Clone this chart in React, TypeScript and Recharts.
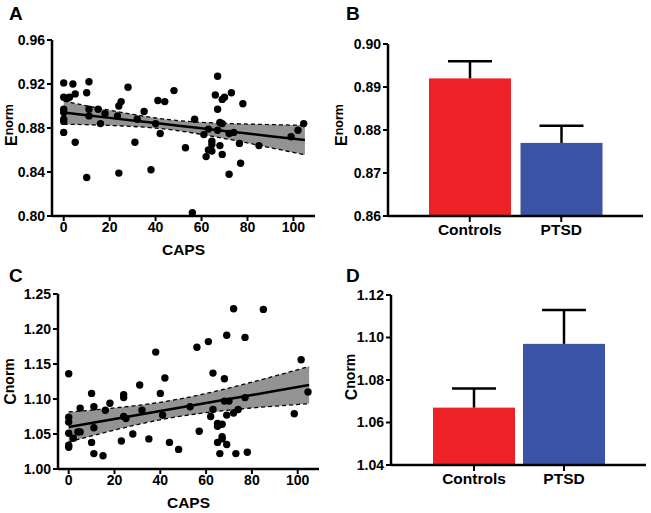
import React from "react";
import {
  ComposedChart,
  BarChart,
  Bar,
  Cell,
  Scatter,
  Line,
  Area,
  XAxis,
  YAxis,
} from "recharts";

// Panel A / C: CAPS score vs normalized measure (one entry per subject)
const capsA = [
  0, 4, 11, 0, 1.7, 2.5, 5, 10, 28, 0, 0, 0, 0, 0, 5, 10, 11, 11, 15, 18, 16, 23.4, 24, 25, 24, 32,
  35, 31, 38, 40, 41, 42, 44, 48, 53, 56, 57, 61, 62, 63, 63, 64.5, 64.5, 64.5, 67, 66, 67, 67, 68,
  69, 68, 69, 69, 70, 73, 72, 74, 72, 76.5, 78, 77, 85, 99, 102, 104.5,
];
const eNormA = [
  0.921, 0.92, 0.922, 0.908, 0.907, 0.908, 0.911, 0.912, 0.917, 0.897, 0.894, 0.888, 0.886, 0.876,
  0.867, 0.835, 0.897, 0.891, 0.897, 0.893, 0.884, 0.891, 0.9, 0.904, 0.839, 0.888, 0.895, 0.867,
  0.842, 0.884, 0.905, 0.875, 0.904, 0.914, 0.862, 0.803, 0.888, 0.874, 0.854, 0.879, 0.86, 0.868,
  0.859, 0.865, 0.927, 0.91, 0.897, 0.878, 0.864, 0.856, 0.885, 0.884, 0.906, 0.908, 0.912, 0.875,
  0.876, 0.838, 0.866, 0.902, 0.848, 0.864, 0.872, 0.878, 0.884,
];
const capsC = [
  0, 0, 0, 0, 0, 0, 2, 4, 5, 5, 10, 10, 11, 11, 11, 15, 16, 18, 23, 24, 24, 24, 25, 28, 31, 32, 35,
  38, 40, 41, 42, 44, 48, 53, 56, 57, 61, 62, 63, 63, 65, 65, 65, 66, 67, 67, 67, 68, 68, 69, 69, 69,
  70, 72, 72, 73, 74, 77, 77, 78, 85, 98.5, 101.5, 104.5,
];
const cNormC = [
  1.136, 1.074, 1.067, 1.051, 1.034, 1.031, 1.044, 1.053, 1.053, 1.087, 1.108, 1.038, 1.089, 1.059,
  1.022, 1.019, 1.084, 1.094, 1.04, 1.106, 1.102, 1.075, 1.072, 1.05, 1.12, 1.084, 1.043, 1.167,
  1.108, 1.077, 1.13, 1.038, 1.028, 1.089, 1.174, 1.054, 1.182, 1.075, 1.137, 1.085, 1.065, 1.061,
  1.038, 1.022, 1.064, 1.046, 1.043, 1.129, 1.097, 1.191, 1.077, 1.035, 1.097, 1.229, 1.08, 1.022,
  1.085, 1.188, 1.102, 1.024, 1.228, 1.079, 1.156, 1.11,
];

// regression fit and 95% confidence band, read at these CAPS values
const bandX = [0, 10, 20, 30, 40, 50, 60, 70, 80, 90, 105];
const fitA = [0.894, 0.8916, 0.8892, 0.8869, 0.8845, 0.8821, 0.8797, 0.8773, 0.875, 0.8726, 0.869];
const loA = [0.8835, 0.883, 0.8823, 0.8814, 0.8799, 0.8775, 0.8742, 0.8704, 0.8664, 0.8621, 0.8556];
const hiA = [0.9045, 0.9002, 0.8961, 0.8924, 0.8891, 0.8867, 0.8852, 0.8842, 0.8836, 0.8831, 0.8824];
const fitC = [1.06, 1.0657, 1.0714, 1.0771, 1.0828, 1.0885, 1.0942, 1.0999, 1.1056, 1.1113, 1.1199];
const loC = [1.0385, 1.0473, 1.0556, 1.0634, 1.0703, 1.076, 1.0805, 1.0841, 1.0872, 1.0898, 1.0934];
const hiC = [1.0815, 1.0841, 1.0872, 1.0908, 1.0953, 1.101, 1.1079, 1.1157, 1.124, 1.1328, 1.1464];

// Panel B / D: group means and SEM
const groups = ["Controls", "PTSD"];
const eMean = [0.892, 0.877];
const eSem = [0.004, 0.004];
const cMean = [1.067, 1.097];
const cSem = [0.009, 0.016];

const capsTicks = [0, 20, 40, 60, 80, 100];
const eTicksA = [0.8, 0.84, 0.88, 0.92, 0.96];
const cTicksC = [1.0, 1.05, 1.1, 1.15, 1.2, 1.25];
const eTicksB = [0.86, 0.87, 0.88, 0.89, 0.9];
const cTicksD = [1.04, 1.06, 1.08, 1.1, 1.12];

const barColors = ["#ec2227", "#3a53a4"];

const FONT = "Arial, 'Liberation Sans', Helvetica, sans-serif";
const tickStyle = { fill: "#000", fontSize: 14, fontWeight: 700, fontFamily: FONT };
const axisLine = { stroke: "#000", strokeWidth: 2.5 };
const tickLine = { stroke: "#000", strokeWidth: 2 };

const yTitle =
  (main: string, sup: string, dx: number, dy: number, supSize: number, shift: number) =>
  (props: any) => {
    const vb = props.viewBox || {};
    const cx = vb.x + dx;
    const cy = vb.y + vb.height / 2 + dy;
    return (
      <text
        x={cx}
        y={cy}
        transform={`rotate(-90 ${cx} ${cy})`}
        textAnchor="middle"
        fontFamily={FONT}
        fontWeight={700}
        fill="#000"
      >
        <tspan fontSize={16}>{main}</tspan>
        <tspan fontSize={supSize} dy={shift}>
          {sup}
        </tspan>
      </text>
    );
  };

const capsTitle = (props: any) => {
  const vb = props.viewBox || {};
  return (
    <text
      x={vb.x + vb.width / 2}
      y={vb.y + 39}
      textAnchor="middle"
      fontFamily={FONT}
      fontWeight={700}
      fontSize={15.5}
      fill="#000"
    >
      CAPS
    </text>
  );
};

const dot = (p: any) => <circle cx={p.cx} cy={p.cy} r={3.7} fill="#000" />;

// bar with an upward-only SEM whisker; pixel length from the bar's own scale
const barWithSem = (yMin: number) => (p: any) => {
  const { x, y, width, height, fill, payload } = p;
  const pxPerUnit = height / (payload.mean - yMin);
  const top = y - payload.sem * pxPerUnit;
  const cx = x + width / 2;
  return (
    <g>
      <rect x={x} y={y} width={width} height={height} fill={fill} />
      <line x1={cx} x2={cx} y1={y} y2={top} stroke="#000" strokeWidth={2.5} />
      <line x1={cx - 22} x2={cx + 22} y1={top} y2={top} stroke="#000" strokeWidth={2.5} />
    </g>
  );
};

function ScatterPanel(props: {
  caps: number[];
  vals: number[];
  fit: number[];
  lo: number[];
  hi: number[];
  yDomain: [number, number];
  yTicks: number[];
  xDomain: [number, number];
  width: number;
  height: number;
  margin: any;
  yWidth: number;
  title: any;
}) {
  const pts = props.caps.map((x, i) => ({ x, y: props.vals[i] }));
  const band = bandX.map((x, i) => ({ x, fit: props.fit[i], lo: props.lo[i], hi: props.hi[i] }));
  return (
    <ComposedChart width={props.width} height={props.height} margin={props.margin}>
      <XAxis
        type="number"
        dataKey="x"
        domain={props.xDomain}
        ticks={capsTicks}
        allowDataOverflow
        axisLine={axisLine}
        tickLine={tickLine}
        tickSize={5}
        tickMargin={1}
        tick={tickStyle}
        height={44}
        label={capsTitle}
      />
      <YAxis
        type="number"
        domain={props.yDomain}
        ticks={props.yTicks}
        allowDataOverflow
        axisLine={axisLine}
        tickLine={tickLine}
        tickSize={5}
        tickMargin={2}
        tick={tickStyle}
        tickFormatter={(v: number) => v.toFixed(2)}
        width={props.yWidth}
        label={props.title}
      />
      <Area
        data={band}
        dataKey={(d: any) => [d.lo, d.hi]}
        type="monotone"
        fill="#939393"
        fillOpacity={1}
        stroke="#000"
        strokeWidth={1.3}
        strokeDasharray="4 3"
        isAnimationActive={false}
        activeDot={false}
        dot={false}
      />
      <Line
        data={band}
        dataKey="fit"
        type="linear"
        stroke="#000"
        strokeWidth={2.5}
        dot={false}
        activeDot={false}
        isAnimationActive={false}
      />
      <Scatter data={pts} dataKey="y" shape={dot} isAnimationActive={false} />
    </ComposedChart>
  );
}

function BarPanel(props: {
  means: number[];
  sems: number[];
  yDomain: [number, number];
  yTicks: number[];
  width: number;
  height: number;
  margin: any;
  yWidth: number;
  xHeight: number;
  pad: { left: number; right: number };
  title: any;
}) {
  const rows = groups.map((g, i) => ({ group: g, mean: props.means[i], sem: props.sems[i] }));
  return (
    <BarChart width={props.width} height={props.height} margin={props.margin} data={rows}>
      <XAxis
        type="category"
        dataKey="group"
        axisLine={axisLine}
        tickLine={tickLine}
        tickSize={6}
        tickMargin={2}
        tick={{ ...tickStyle, fontSize: 15.5 }}
        height={props.xHeight}
        padding={props.pad}
      />
      <YAxis
        type="number"
        domain={props.yDomain}
        ticks={props.yTicks}
        allowDataOverflow
        axisLine={axisLine}
        tickLine={tickLine}
        tickSize={5}
        tickMargin={2}
        tick={tickStyle}
        tickFormatter={(v: number) => v.toFixed(2)}
        width={props.yWidth}
        label={props.title}
      />
      <Bar dataKey="mean" barSize={82} shape={barWithSem(props.yDomain[0])} isAnimationActive={false}>
        {rows.map((r, i) => (
          <Cell key={r.group} fill={barColors[i]} />
        ))}
      </Bar>
    </BarChart>
  );
}

export default function App() {
  const box = (left: number, top: number): React.CSSProperties => ({
    position: "absolute",
    left,
    top,
  });
  const letter = { fontFamily: FONT, fontWeight: 700, fontSize: 19, fill: "#000" };
  return (
    <div
      style={{
        position: "absolute",
        left: 0,
        top: 0,
        width: 651,
        height: 513,
        background: "#fff",
        overflow: "hidden",
      }}
    >
      <div style={box(0, 0)}>
        <ScatterPanel
          caps={capsA}
          vals={eNormA}
          fit={fitA}
          lo={loA}
          hi={hiA}
          yDomain={[0.8, 0.96]}
          yTicks={eTicksA}
          xDomain={[-5.1, 109.4]}
          width={330}
          height={260}
          margin={{ top: 40, right: 15, bottom: 0, left: 0 }}
          yWidth={52}
          title={yTitle("E", "norm", 17, -3, 12.5, -4.5)}
        />
      </div>
      <div style={box(330, 0)}>
        <BarPanel
          means={eMean}
          sems={eSem}
          yDomain={[0.86, 0.9]}
          yTicks={eTicksB}
          width={321}
          height={260}
          margin={{ top: 44, right: 8, bottom: 0, left: 0 }}
          yWidth={58}
          xHeight={44}
          pad={{ left: 36, right: 36 }}
          title={yTitle("E", "norm", 17, -5, 12.5, -4.5)}
        />
      </div>
      <div style={box(0, 260)}>
        <ScatterPanel
          caps={capsC}
          vals={cNormC}
          fit={fitC}
          lo={loC}
          hi={hiC}
          yDomain={[1.0, 1.25]}
          yTicks={cTicksC}
          xDomain={[-4.67, 109.3]}
          width={330}
          height={253}
          margin={{ top: 34, right: 11, bottom: 0, left: 0 }}
          yWidth={58}
          title={yTitle("C", "norm", 16, 0, 14, -2)}
        />
      </div>
      <div style={box(330, 260)}>
        <BarPanel
          means={cMean}
          sems={cSem}
          yDomain={[1.04, 1.12]}
          yTicks={cTicksD}
          width={321}
          height={253}
          margin={{ top: 35, right: 5, bottom: 0, left: 0 }}
          yWidth={61}
          xHeight={48}
          pad={{ left: 38, right: 37 }}
          title={yTitle("C", "norm", 27, -3, 14, -2)}
        />
      </div>
      <svg
        width={651}
        height={513}
        style={{ position: "absolute", left: 0, top: 0, pointerEvents: "none" }}
      >
        <text x={9} y={20} {...letter}>
          A
        </text>
        <text x={346} y={20} {...letter}>
          B
        </text>
        <text x={9} y={282} {...letter}>
          C
        </text>
        <text x={346} y={282} {...letter}>
          D
        </text>
      </svg>
    </div>
  );
}
